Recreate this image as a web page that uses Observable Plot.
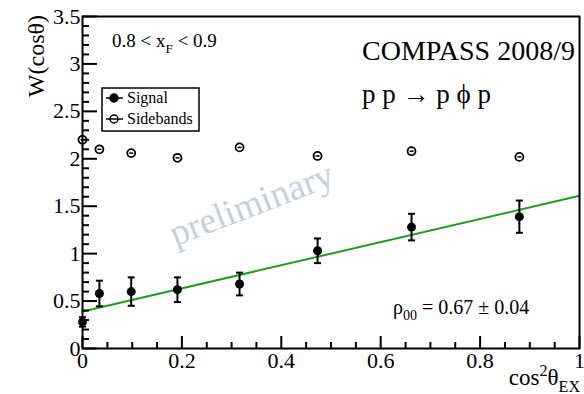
<!DOCTYPE html>
<html><head><meta charset="utf-8">
<script src="https://cdn.jsdelivr.net/npm/d3@7"></script>
<script src="https://cdn.jsdelivr.net/npm/@observablehq/plot@0.6"></script>
<style>
body{margin:0;background:#fff}
#chart{width:584px;height:394px}
#chart svg text, #chart svg tspan { font-family: "Liberation Serif", "DejaVu Serif", serif !important; }
</style>
</head><body><div id="chart"></div>
<script>
// ---- data ----
const xBins      = [0.0, 0.034, 0.098, 0.191, 0.316, 0.473, 0.662, 0.879];
const signalW    = [0.28, 0.58, 0.60, 0.62, 0.68, 1.03, 1.28, 1.39];
const signalErr  = [0.05, 0.135, 0.15, 0.13, 0.12, 0.13, 0.14, 0.17];
const sidebandW  = [2.20, 2.10, 2.06, 2.01, 2.12, 2.03, 2.08, 2.02];
const sidebandErr= [0.03, 0.03, 0.03, 0.03, 0.03, 0.03, 0.03, 0.03];
const fitX = [0, 1];
const fitY = [0.39, 1.61];
const xMajor = [0, 0.2, 0.4, 0.6, 0.8, 1];
const xMinor = [0.05,0.1,0.15,0.25,0.3,0.35,0.45,0.5,0.55,0.65,0.7,0.75,0.85,0.9,0.95];
const yMajor = [0, 0.5, 1, 1.5, 2, 2.5, 3, 3.5];
const yMinor = [0.1,0.2,0.3,0.4,0.6,0.7,0.8,0.9,1.1,1.2,1.3,1.4,1.6,1.7,1.8,1.9,
                2.1,2.2,2.3,2.4,2.6,2.7,2.8,2.9,3.1,3.2,3.3,3.4];
const legendLabels = ["Signal", "Sidebands"];

const sig = xBins.map((x, i) => ({x, w: signalW[i], e: signalErr[i]}));
const sb  = xBins.map((x, i) => ({x, w: sidebandW[i], e: sidebandErr[i]}));
const fit = fitX.map((x, i) => ({x, w: fitY[i]}));

const font = "Liberation Serif, DejaVu Serif, serif";
const cap = {draw(ctx, size) { const w = Math.sqrt(size / Math.PI); ctx.moveTo(-w, 0); ctx.lineTo(w, 0); }};

const plot = Plot.plot({
  width: 584, height: 394,
  marginLeft: 82, marginRight: 5, marginTop: 16, marginBottom: 46,
  x: {domain: [0, 1]},
  y: {domain: [0, 3.5]},
  style: {fontFamily: font, background: "white", color: "black"},
  marks: [
    Plot.text(["preliminary"], {x: () => 0.34, y: () => 1.52, text: d => d, rotate: -21,
      fontSize: 37, fill: "#c6cfde"}),
    Plot.line(fit, {x: "x", y: "w", stroke: "#1e9e1e", strokeWidth: 2}),
    // sidebands
    Plot.ruleX(sb, {x: "x", y1: d => d.w - d.e, y2: d => d.w + d.e, stroke: "black", strokeWidth: 1.5}),
    Plot.dot(sb, {x: "x", y: "w", r: 4, stroke: "black", strokeWidth: 1.8, fill: "white"}),
    Plot.dot(sb, {x: "x", y: "w", symbol: cap, r: 2, stroke: "black", strokeWidth: 1.5}),
    // signal
    Plot.ruleX(sig, {x: "x", y1: d => d.w - d.e, y2: d => d.w + d.e, stroke: "black", strokeWidth: 2}),
    Plot.dot(sig, {x: "x", y: d => d.w - d.e, symbol: cap, r: 3.5, stroke: "black", strokeWidth: 2}),
    Plot.dot(sig, {x: "x", y: d => d.w + d.e, symbol: cap, r: 3.5, stroke: "black", strokeWidth: 2}),
    Plot.dot(sig, {x: "x", y: "w", r: 4.5, fill: "black"}),
    // axes (ticks inside, ROOT style)
    Plot.axisX(xMajor, {anchor: "bottom", tickSize: -12, fill: "none", strokeWidth: 2, label: null}),
    Plot.axisX(xMinor, {anchor: "bottom", tickSize: -6, fill: "none", strokeWidth: 2, label: null}),
    Plot.axisX(xMajor, {anchor: "bottom", tickSize: 0, tickPadding: 4, fontSize: 22, tickFormat: d => String(d), label: null}),
    Plot.axisY(yMajor, {anchor: "left", tickSize: -15, fill: "none", strokeWidth: 2, label: null}),
    Plot.axisY(yMinor, {anchor: "left", tickSize: -7, fill: "none", strokeWidth: 2, label: null}),
    Plot.axisY(yMajor, {anchor: "left", tickSize: 0, tickPadding: 2, fontSize: 22, tickFormat: d => String(d), label: null}),
    Plot.frame({stroke: "black", strokeWidth: 2})
  ]
});
document.getElementById("chart").append(plot);

// ---- annotations with sub/superscripts ----
const svg = d3.select(plot);
function rich(x, y, size, parts, anchor = "start", rotate = 0) {
  const t = svg.append("text")
    .attr("transform", `translate(${x},${y}) rotate(${rotate})`)
    .attr("text-anchor", anchor)
    .attr("font-family", font).attr("font-size", size).attr("fill", "black");
  let shift = 0;
  for (const p of parts) {
    const s = p.sub ? size * 0.3 : p.sup ? -size * 0.4 : 0;
    t.append("tspan").attr("dy", s - shift).attr("font-size", p.sub || p.sup ? size * 0.7 : size).text(p.t);
    shift = s;
  }
  return t;
}
rich(112, 47, 19, [{t: "0.8 < x"}, {t: "F", sub: true}, {t: " < 0.9"}]);
rich(362, 60, 28, [{t: "COMPASS 2008/9"}]);
rich(362, 103, 27, [{t: "p p \u2192 p \u03d5 p"}]);
rich(393, 314, 20, [{t: "\u03c1"}, {t: "00", sub: true}, {t: " = 0.67 \u00b1 0.04"}]);
rich(580, 385, 23, [{t: "cos"}, {t: "2", sup: true}, {t: "\u03b8"}, {t: "EX", sub: true}], "end");
rich(44, 15, 24, [{t: "W(cos\u03b8)"}], "end", -90);

// ---- legend ----
const lg = svg.append("g");
lg.append("rect").attr("x", 102).attr("y", 88).attr("width", 97).attr("height", 43)
  .attr("fill", "white").attr("stroke", "black").attr("stroke-width", 1.5);
legendLabels.forEach((lab, i) => {
  const cy = 98 + i * 21;
  lg.append("line").attr("x1", 106).attr("x2", 123).attr("y1", cy).attr("y2", cy)
    .attr("stroke", "black").attr("stroke-width", 1.5);
  lg.append("circle").attr("cx", 114).attr("cy", cy).attr("r", 4)
    .attr("fill", i === 0 ? "black" : "none").attr("stroke", "black").attr("stroke-width", 1.5);
  lg.append("text").attr("x", 127).attr("y", cy + 5).attr("text-anchor", "start")
    .attr("font-family", font).attr("font-size", 16).attr("fill", "black").text(lab);
});
</script></body></html>
